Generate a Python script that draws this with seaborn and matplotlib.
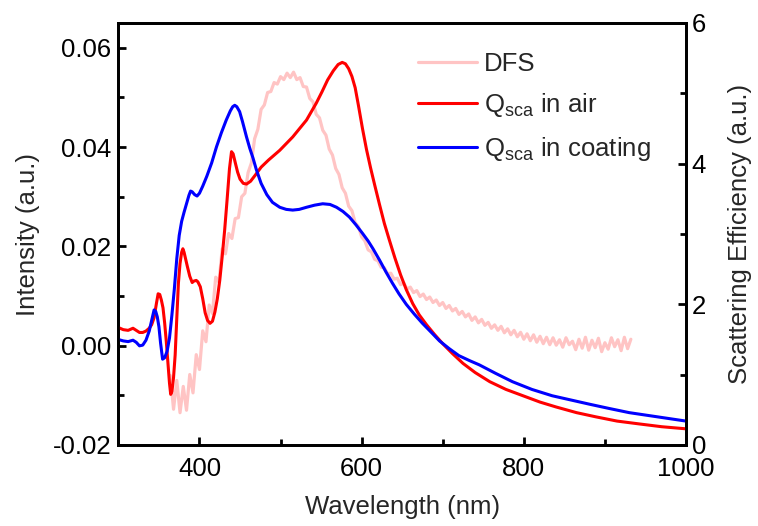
import matplotlib
matplotlib.use("Agg")
import matplotlib.pyplot as plt
import seaborn as sns
from matplotlib.ticker import MultipleLocator, FormatStrFormatter

# Dark-field scattering spectrum (left axis)
wl_dfs = [
    364, 368, 372, 376, 380, 384, 388, 392, 396, 400,
    404, 408, 412, 416, 420, 424, 428, 432, 436, 440,
    444, 448, 452, 456, 460, 464, 468, 472, 476, 480,
    484, 488, 492, 496, 500, 504, 508, 512, 516, 520,
    524, 528, 532, 536, 540, 544, 548, 552, 556, 560,
    564, 568, 572, 576, 580, 584, 588, 592, 596, 600,
    604, 608, 612, 616, 620, 624, 628, 632, 636, 640,
    644, 648, 652, 656, 660, 664, 668, 672, 676, 680,
    684, 688, 692, 696, 700, 704, 708, 712, 716, 720,
    724, 728, 732, 736, 740, 744, 748, 752, 756, 760,
    764, 768, 772, 776, 780, 784, 788, 792, 796, 800,
    804, 808, 812, 816, 820, 824, 828, 832, 836, 840,
    844, 848, 852, 856, 860, 864, 868, 872, 876, 880,
    884, 888, 892, 896, 900, 904, 908, 912, 916, 920,
    924, 928, 932,
]
dfs = [
    -0.0060, -0.0128, -0.0070, -0.0135, -0.0082, -0.0130, -0.0058, -0.0095, -0.0018, -0.0048,
    0.0030, 0.0008, 0.0082, 0.0065, 0.0138, 0.0128, 0.0195, 0.0185, 0.0226, 0.0216,
    0.0256, 0.0258, 0.0300, 0.0307, 0.0349, 0.0368, 0.0417, 0.0436, 0.0476, 0.0485,
    0.0510, 0.0512, 0.0530, 0.0527, 0.0542, 0.0536, 0.0549, 0.0540, 0.0551, 0.0536,
    0.0540, 0.0522, 0.0521, 0.0498, 0.0491, 0.0466, 0.0459, 0.0434, 0.0424, 0.0396,
    0.0384, 0.0357, 0.0345, 0.0318, 0.0307, 0.0281, 0.0272, 0.0248, 0.0240, 0.0219,
    0.0211, 0.0193, 0.0189, 0.0174, 0.0171, 0.0158, 0.0157, 0.0145, 0.0146, 0.0134,
    0.0136, 0.0123, 0.0126, 0.0114, 0.0118, 0.0107, 0.0111, 0.0099, 0.0104, 0.0093,
    0.0098, 0.0087, 0.0092, 0.0081, 0.0087, 0.0075, 0.0081, 0.0070, 0.0075, 0.0063,
    0.0069, 0.0058, 0.0064, 0.0051, 0.0058, 0.0046, 0.0053, 0.0041, 0.0047, 0.0035,
    0.0042, 0.0031, 0.0039, 0.0026, 0.0034, 0.0022, 0.0031, 0.0018, 0.0027, 0.0013,
    0.0024, 0.0010, 0.0022, 0.0007, 0.0019, 0.0004, 0.0017, 0.0002, 0.0016, 0.0001,
    0.0012, -0.0003, 0.0016, 0.0002, 0.0009, -0.0008, 0.0013, -0.0005, 0.0017, -0.0009,
    0.0011, -0.0004, 0.0015, -0.0012, 0.0006, -0.0007, 0.0016, -0.0002, 0.0012, -0.0010,
    0.0017, -0.0006, 0.0013,
]

# Simulated scattering efficiency, particle in air (right axis)
wl_air = [
    300, 306, 312, 318, 322, 326, 330, 334, 338, 341,
    344, 347, 349, 351, 353, 355, 357, 359, 361, 363,
    364.5, 366, 368, 370, 372, 374, 376, 378, 379.5, 381,
    383, 385, 388, 391, 393, 396, 398, 401, 404, 407,
    410, 413, 416, 419, 422, 425, 428, 431, 434, 437,
    439.5, 441.5, 444, 447, 450, 454, 458, 463, 469, 476,
    485, 499, 515, 532, 544, 551, 558, 565, 571, 576,
    580, 584, 588, 592, 596, 601, 606, 611, 616, 622,
    628, 634, 641, 648, 655, 663, 671, 680, 690, 700,
    712, 725, 740, 758, 778, 799, 820, 840, 865, 889,
    915, 942, 970, 1000,
]
q_air = [
    1.67, 1.64, 1.63, 1.66, 1.63, 1.60, 1.60, 1.62, 1.66, 1.71,
    1.81, 2.02, 2.15, 2.14, 2.06, 1.95, 1.74, 1.48, 1.18, 0.88,
    0.72, 0.76, 0.96, 1.28, 1.80, 2.30, 2.58, 2.74, 2.79, 2.74,
    2.64, 2.54, 2.40, 2.31, 2.33, 2.34, 2.32, 2.25, 2.08, 1.88,
    1.77, 1.73, 1.76, 1.89, 2.08, 2.34, 2.68, 3.05, 3.48, 3.93,
    4.17, 4.14, 4.02, 3.88, 3.78, 3.72, 3.71, 3.75, 3.84, 3.95,
    4.05, 4.19, 4.38, 4.62, 4.86, 5.02, 5.19, 5.32, 5.41, 5.44,
    5.42, 5.35, 5.24, 5.08, 4.83, 4.50, 4.20, 3.94, 3.70, 3.42,
    3.15, 2.92, 2.66, 2.42, 2.21, 2.01, 1.85, 1.71, 1.57, 1.44,
    1.30, 1.16, 1.03, 0.90, 0.79, 0.70, 0.61, 0.54, 0.46, 0.40,
    0.34, 0.30, 0.26, 0.23,
]

# Simulated scattering efficiency, particle in coating (right axis)
wl_coat = [
    300, 306, 312, 318, 322, 326, 330, 334, 338, 341,
    344, 346, 348, 350, 352, 354.5, 357, 360, 363, 366,
    369, 372, 375, 378, 381, 384, 387, 389, 391, 394,
    397, 400, 404, 409, 415, 421, 427, 433, 438, 441,
    443.5, 446, 449.5, 453, 458, 462, 466, 470, 476, 483,
    490, 499, 507, 515, 523, 532, 542, 552, 561, 569,
    577, 585, 593, 601, 608, 614, 622, 630, 638, 646,
    655, 665, 675, 686, 696, 708, 720, 733, 745, 765,
    786, 810, 835, 858, 881, 905, 930, 965, 1000,
]
q_coat = [
    1.50, 1.48, 1.47, 1.49, 1.46, 1.41, 1.42, 1.49, 1.62, 1.77,
    1.92, 1.90, 1.82, 1.68, 1.45, 1.22, 1.24, 1.33, 1.52, 1.85,
    2.22, 2.65, 2.98, 3.18, 3.31, 3.43, 3.55, 3.61, 3.60, 3.56,
    3.54, 3.58, 3.68, 3.82, 4.01, 4.24, 4.44, 4.62, 4.75, 4.81,
    4.83, 4.81, 4.74, 4.60, 4.38, 4.22, 4.08, 3.92, 3.72, 3.56,
    3.45, 3.38, 3.35, 3.34, 3.35, 3.38, 3.41, 3.43, 3.42, 3.38,
    3.32, 3.24, 3.13, 3.01, 2.90, 2.79, 2.63, 2.46, 2.30, 2.15,
    2.00, 1.86, 1.73, 1.60, 1.48, 1.37, 1.27, 1.20, 1.14, 1.02,
    0.90, 0.79, 0.70, 0.64, 0.58, 0.52, 0.46, 0.40, 0.34,
]

sns.set_style("ticks")
plt.rcParams.update({
    "font.family": ["Liberation Sans", "DejaVu Sans"],
    "mathtext.default": "regular",
    "axes.unicode_minus": False,
    "font.size": 18.5,
    "axes.linewidth": 2.0,
    "axes.edgecolor": "black",
})

fig = plt.figure(figsize=(7.58, 5.26), dpi=100)
ax = fig.add_axes([118.4 / 758, 81 / 526, (686 - 118.4) / 758, 422 / 526])
ax2 = ax.twinx()

sns.lineplot(x=wl_dfs, y=dfs, ax=ax, color="#ffc4c4", linewidth=2.3,
             label="DFS", legend=False, sort=False)
sns.lineplot(x=wl_air, y=q_air, ax=ax2, color="#ff0000", linewidth=2.2,
             label=r"$Q_{sca}$ in air", legend=False, sort=False)
sns.lineplot(x=wl_coat, y=q_coat, ax=ax2, color="#0000ff", linewidth=2.2,
             label=r"$Q_{sca}$ in coating", legend=False, sort=False)

ax.set_xlim(300, 1000)
ax.set_ylim(-0.02, 0.065)
ax2.set_ylim(0, 6)

ax.xaxis.set_major_locator(MultipleLocator(200))
ax.xaxis.set_minor_locator(MultipleLocator(100))
ax.yaxis.set_major_locator(MultipleLocator(0.02))
ax.yaxis.set_minor_locator(MultipleLocator(0.01))
ax.yaxis.set_major_formatter(FormatStrFormatter("%.2f"))
ax2.yaxis.set_major_locator(MultipleLocator(2))
ax2.yaxis.set_minor_locator(MultipleLocator(1))

ax.tick_params(axis="both", which="both", direction="in", width=2.0,
               labelsize=18.5, top=False, right=False, colors="black")
ax.tick_params(which="major", length=6)
ax.tick_params(which="minor", length=4)
ax.tick_params(axis="x", pad=9)
ax.tick_params(axis="y", pad=5)
ax2.tick_params(axis="y", which="both", direction="in", width=2.0,
                labelsize=18.5, left=False, right=True, pad=4, colors="black")
ax2.tick_params(which="major", length=6)
ax2.tick_params(which="minor", length=4)

for a in (ax, ax2):
    for sp in a.spines.values():
        sp.set_linewidth(2.0)
        sp.set_color("black")

ax.set_xlabel("Wavelength (nm)", fontsize=18.5, labelpad=10)
ax.set_ylabel("Intensity (a.u.)", fontsize=18.5, labelpad=9)
ax2.set_ylabel("Scattering Efficiency (a.u.)", fontsize=18.5, labelpad=16)

handles = ax.get_lines()[:1] + ax2.get_lines()[:2]
labels = [h.get_label() for h in handles]
fig.legend(handles, labels, loc="upper left",
           bbox_to_anchor=(418 / 758, 1 - 52 / 526),
           frameon=False, fontsize=18.5, handlelength=2.3, handletextpad=0.25,
           labelspacing=0.6, borderpad=0, borderaxespad=0)

fig.savefig("out.png", dpi=100)
